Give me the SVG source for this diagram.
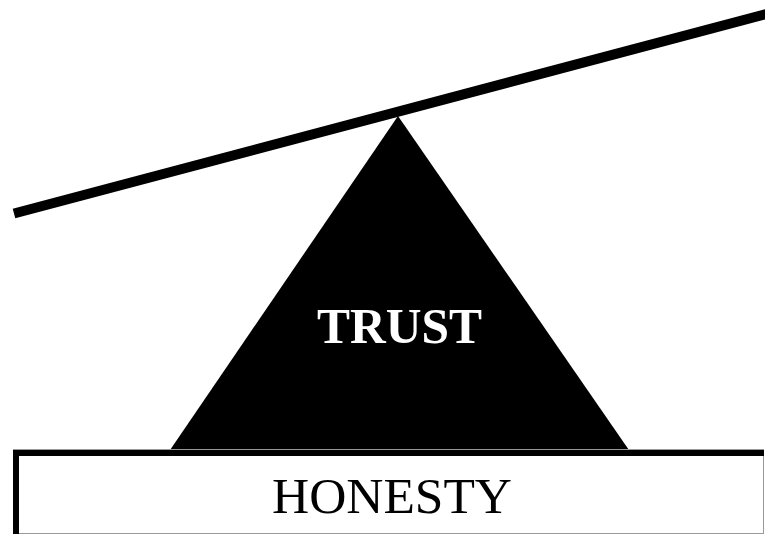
<svg xmlns="http://www.w3.org/2000/svg" width="765" height="537" viewBox="0 0 765 537">
<style>
.lbl{font-family:"Liberation Serif","DejaVu Serif",serif;text-anchor:middle}
</style>
<rect width="765" height="537" fill="#ffffff"/>
<g id="connectors">
<line id="beam" x1="14" y1="213.5" x2="770" y2="13" stroke="#000" stroke-width="10"/>
</g>
<g id="trust">
<polygon points="398,116 168,453 631,453" fill="#000"/>
<text class="lbl" x="399.5" y="343" font-size="50" font-weight="bold" fill="#fff" textLength="165" lengthAdjust="spacingAndGlyphs">TRUST</text>
</g>
<g id="honesty">
<rect x="13.5" y="449.5" width="750" height="84" fill="#fff" stroke="#999" stroke-width="1"/>
<rect x="13" y="450" width="751" height="6" fill="#000"/>
<rect x="13" y="450" width="6" height="84" fill="#000"/>
<text class="lbl" x="392" y="513" font-size="51" fill="#000" textLength="240" lengthAdjust="spacingAndGlyphs">HONESTY</text>
</g>
</svg>
